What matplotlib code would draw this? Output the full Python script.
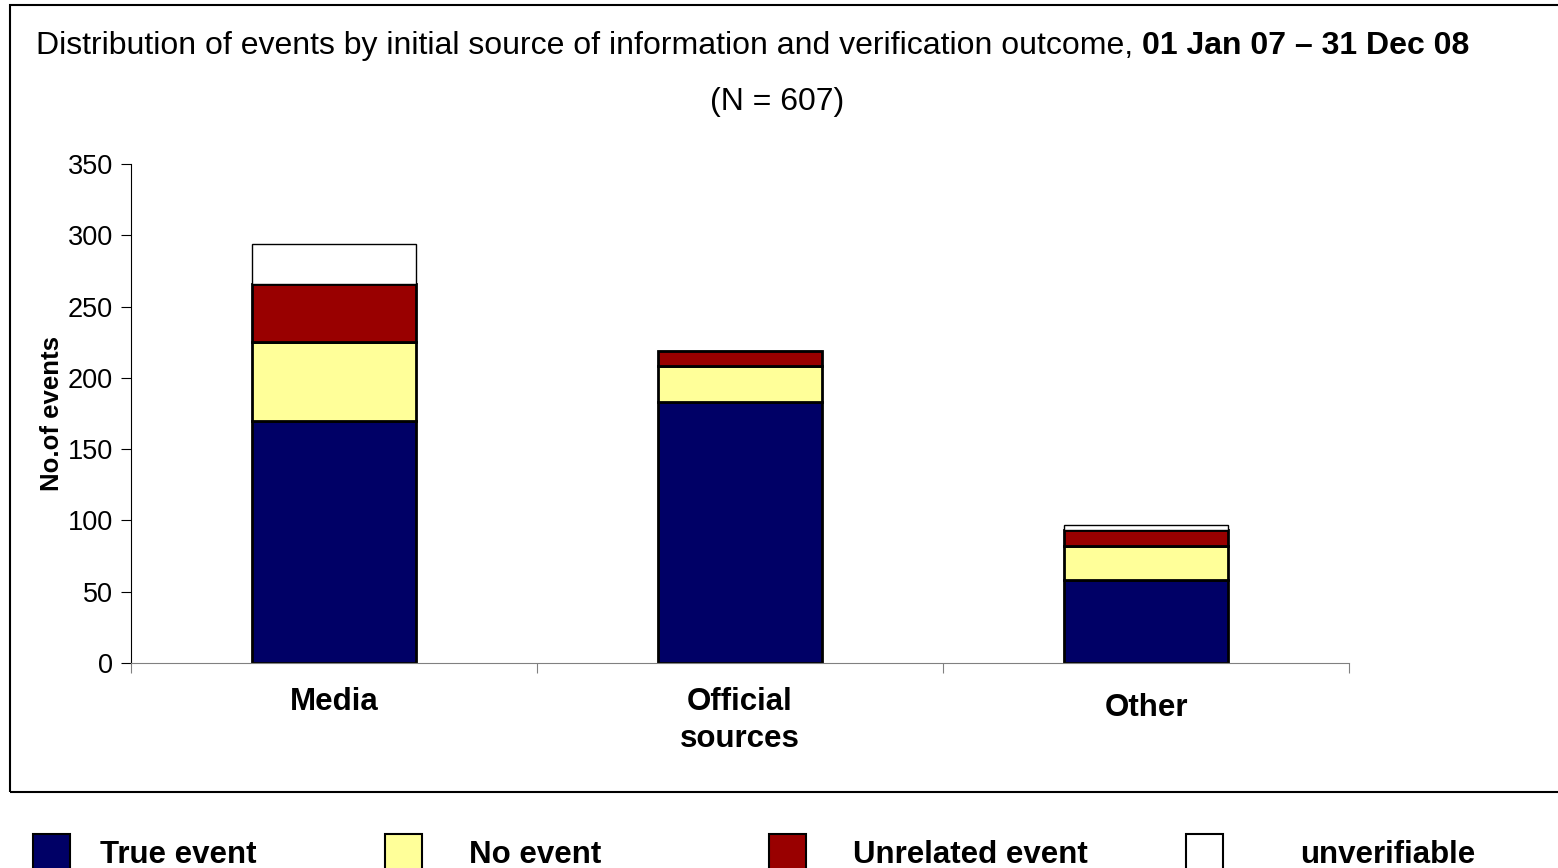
import matplotlib
matplotlib.use("Agg")
import matplotlib.pyplot as plt
from matplotlib.patches import Rectangle
import numpy as np

# ── Data ──────────────────────────────────────────────────────────────────────
categories   = ["Media", "Official\nsources", "Other"]
series_names = ["True event", "No event", "Unrelated event", "unverifiable"]
true_event   = [170, 183, 58]
no_event     = [55, 25, 24]
unrelated    = [41, 11, 11]
unverifiable = [28, 0, 4]
colors       = ["#000066", "#FFFF99", "#990000", "#FFFFFF"]

title_main = "Distribution of events by initial source of information and verification outcome, "
title_bold = "01 Jan 07 \u2013 31 Dec 08"
subtitle   = "(N = 607)"
y_ticks    = [0, 50, 100, 150, 200, 250, 300, 350]

plt.rcParams["font.family"] = ["Liberation Sans", "DejaVu Sans"]

# ── Figure ────────────────────────────────────────────────────────────────────
W, H = 1558, 868
fig = plt.figure(figsize=(W / 100, H / 100), dpi=100)

# outer chart frame
fig.patches.append(Rectangle((10 / W, 1 - 792 / H), (W - 8) / W, (792 - 5) / H,
                             transform=fig.transFigure, fill=False,
                             edgecolor="black", linewidth=1.5))

ax = fig.add_axes([131 / W, 1 - 663 / H, 1218 / W, 499 / H])

series = [true_event, no_event, unrelated, unverifiable]
x = np.arange(len(categories))
bottom = np.zeros(len(categories))
for name, vals, col in zip(series_names, series, colors):
    vals = np.array(vals, dtype=float)
    lw = 1.0 if col == "#FFFFFF" else 2.0
    ax.bar(x, vals, width=0.404, bottom=bottom, color=col,
           edgecolor="black", linewidth=lw, label=name)
    bottom += vals

ax.set_xlim(-0.5, 2.5)
ax.set_ylim(0, 350)
ax.set_yticks(y_ticks)
ax.tick_params(axis="y", direction="out", length=7, labelsize=19.5, pad=6)

# category boundaries as major ticks, names as minor tick labels
ax.set_xticks([-0.5, 0.5, 1.5, 2.5])
ax.set_xticklabels([])
ax.set_xticks(x, minor=True)
ax.set_xticklabels(categories, minor=True, fontsize=22.5, fontweight="bold",
                   linespacing=1.3)
ax.tick_params(axis="x", which="major", direction="out", length=7, color="#808080")
ax.tick_params(axis="x", which="minor", length=0, pad=17)
# "Other" sits a little lower and to the right in the original
ax.get_xticklabels(minor=True)[2].set_y(-0.012)

for s in ["top", "right"]:
    ax.spines[s].set_visible(False)
ax.spines["bottom"].set_color("#808080")
ax.spines["left"].set_color("black")

ax.set_ylabel("No.of events", fontsize=18.5, fontweight="bold", labelpad=3)

# ── Title (mixed weight) ─────────────────────────────────────────────────────
t1 = fig.text(36 / W, 1 - 46 / H, title_main, fontsize=23, va="center", ha="left")
fig.canvas.draw()
bb = t1.get_window_extent(renderer=fig.canvas.get_renderer())
fig.text(bb.x1 / W, 1 - 46 / H, title_bold, fontsize=23, fontweight="bold",
         va="center", ha="left")
fig.text(777 / W, 1 - 102 / H, subtitle, fontsize=23, va="center", ha="center")

# ── Legend below the frame ───────────────────────────────────────────────────
box_x  = [33, 385, 769, 1186]
text_x = [100, 469, 853, 1300]
for name, col, bx, tx in zip(series_names, colors, box_x, text_x):
    fig.patches.append(Rectangle((bx / W, 1 - 870 / H), 37 / W, 36 / H,
                                 transform=fig.transFigure, facecolor=col,
                                 edgecolor="black", linewidth=1.5))
    fig.text(tx / W, 1 - 855 / H, name, fontsize=22.5, fontweight="bold",
             va="center", ha="left")

plt.savefig("out.png", dpi=100)
